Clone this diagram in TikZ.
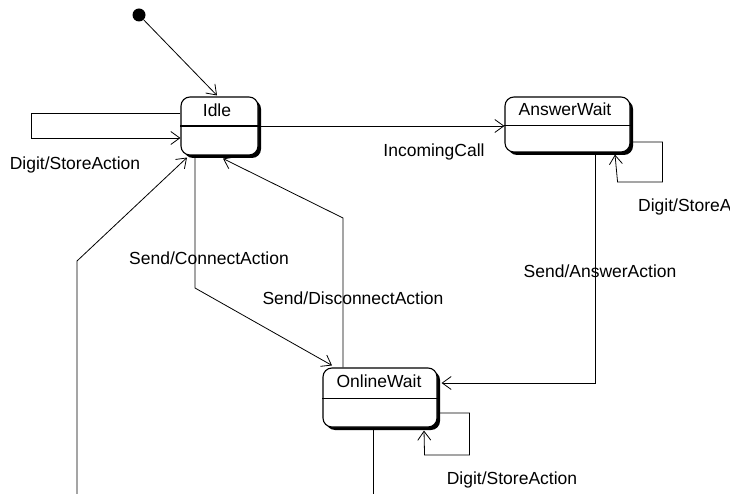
\documentclass[tikz,border=0pt]{standalone}
\usepackage{fontspec}
\setmainfont{Liberation Sans}
\usetikzlibrary{arrows.meta,shadows}
\begin{document}
\begin{tikzpicture}[x=1pt,y=-1pt,
  every node/.style={font=\fontsize{17.5}{20}\selectfont, inner sep=0pt},
  statebox/.style={draw, line width=1.1pt, rounded corners=9pt,
    drop shadow={shadow xshift=3pt, shadow yshift=-3pt, fill=black, opacity=1}, fill=white},
  conn/.style={line width=0.8pt},
  arr/.style={conn, -{Straight Barb[length=9pt,width=13pt,line width=0.8pt]}},
  lbl/.style={}]
\useasboundingbox (0,0) rectangle (730,494);
\clip (0,0) rectangle (730,494);
% initial state
\node[circle, fill=black, minimum size=13pt] (init) at (139,15) {};
% states
\node[statebox, minimum width=77pt, minimum height=58pt] (idle) at (219.5,126) {};
\draw[line width=1.1pt] (idle.west) -- (idle.east);
\node (idlet) at (217,110) {Idle};
\node[statebox, minimum width=125pt, minimum height=55pt] (aw) at (567.5,124.5) {};
\draw[line width=1.1pt] ([yshift=-1pt]aw.west) -- ([yshift=-1pt]aw.east);
\node (awt) at (565,109) {AnswerWait};
\node[statebox, minimum width=114pt, minimum height=59pt] (ow) at (380,397.5) {};
\draw[line width=1.1pt] ([yshift=-1pt]ow.west) -- ([yshift=-1pt]ow.east);
\node (owt) at (379,381) {OnlineWait};
% free ends
\coordinate (leftend) at (77,494);
\coordinate (owend) at (373,494);
% transitions
\draw[arr] (init) -- ([xshift=-2.5pt,yshift=1pt]idle.north);
\draw[arr] ([yshift=13pt]idle.west) -- ++(-149,0) -- ++(0,25) -- ([yshift=-12pt]idle.west);
\draw[arr] (idle.east) -- (idle.east -| aw.west);
\draw[arr] ([yshift=-17.5pt]aw.east) -- ++(32,0) -- ++(0,40) -- ++(-45,0) -- ([xshift=47.5pt,yshift=-2pt]aw.south);
\draw[arr] ([xshift=27.5pt]aw.south) |- ([xshift=4pt,yshift=14.5pt]ow.east);
\draw[arr] ([yshift=-15.5pt]ow.east) -- ++(32,0) -- ++(0,42) -- ++(-45,0) -- ([xshift=44pt,yshift=-3pt]ow.south);
\draw[conn] ([xshift=-7pt]ow.south) -- (owend);
\draw[arr] (leftend) -- (77,261) -- ([xshift=-32.5pt,yshift=-2pt]idle.south);
\draw[arr] ([xshift=-24.5pt]idle.south) -- (195,288) -- ([xshift=-48pt,yshift=2pt]ow.north);
\draw[arr] ([xshift=-37pt]ow.north) -- (343,218) -- ([xshift=3.5pt,yshift=-3pt]idle.south);
% labels
\node[lbl] (l1) at (75,165) {Digit/StoreAction};
\node[lbl] (l2) at (434,152) {IncomingCall};
\node[lbl, anchor=west] (l3) at (638,207) {Digit/StoreA};
\node[lbl] (l4) at (600,271) {Send/AnswerAction};
\node[lbl] (l5) at (209,258) {Send/ConnectAction};
\node[lbl] (l6) at (353,298) {Send/DisconnectAction};
\node[lbl] (l7) at (512,480) {Digit/StoreAction};
\end{tikzpicture}
\end{document}
